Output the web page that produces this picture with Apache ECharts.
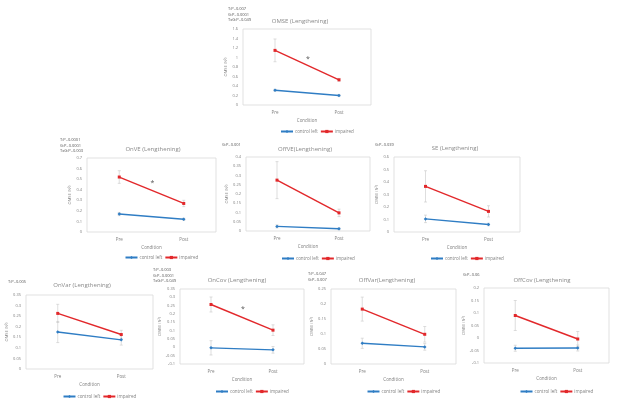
<!DOCTYPE html>
<html>
<head>
<meta charset="utf-8">
<script src="https://cdn.jsdelivr.net/npm/echarts@6/dist/echarts.min.js"></script>
<style>
html,body{margin:0;padding:0;background:#fff;}
#c{width:621px;height:407px;}
</style>
</head>
<body>
<div id="c"></div>
<script>
const categories = ['Pre', 'Post'];
const seriesNames = ['control left', 'impaired'];

const panelTitles = ['OMSE (Lengthening)', 'OnVE (Lengthening)', 'OffVE(Lengthening)', 'SE (Lengthening)',
  'OnVar (Lengthening)', 'OnCov (Lengthening)', 'OffVar(Lengthening)', 'OffCov (Lengthening'];
const panelStats = [
  ['T:P=0.007', 'G:P=0.0001', 'TxG:P=0.049'],
  ['T:P=0.0001', 'G:P=0.0001', 'TxG:P=0.003'],
  ['G:P=0.001'],
  ['G:P=0.039'],
  ['T:P=0.005'],
  ['T:P=0.003', 'G:P=0.0001', 'TxG:P=0.049'],
  ['T:P=0.047', 'G:P=0.007'],
  ['G:P=0.06']
];
// y value of the significance asterisk (null = none)
const starValue = [1.0, 0.47, null, null, null, 0.235, null, null];

// y-axis ranges [min, max, interval]
const yMin = [0, 0, 0, 0, 0, -0.1, 0, -0.1];
const yMax = [1.6, 0.7, 0.4, 0.6, 0.35, 0.35, 0.25, 0.2];
const yStep = [0.2, 0.1, 0.05, 0.1, 0.05, 0.05, 0.05, 0.05];

// values per panel
const omseControl = [0.31, 0.20], omseControlErr = [0.02, 0.02];
const omseImpaired = [1.15, 0.53], omseImpairedErr = [0.24, 0.03];
const onveControl = [0.17, 0.12], onveControlErr = [0.015, 0.01];
const onveImpaired = [0.52, 0.27], onveImpairedErr = [0.06, 0.03];
const offveControl = [0.025, 0.012], offveControlErr = [0.008, 0.005];
const offveImpaired = [0.275, 0.098], offveImpairedErr = [0.1, 0.02];
const seControl = [0.105, 0.06], seControlErr = [0.03, 0.01];
const seImpaired = [0.365, 0.165], seImpairedErr = [0.125, 0.045];
const onvarControl = [0.175, 0.138], onvarControlErr = [0.05, 0.025];
const onvarImpaired = [0.263, 0.163], onvarImpairedErr = [0.043, 0.02];
const oncovControl = [-0.003, -0.015], oncovControlErr = [0.043, 0.02];
const oncovImpaired = [0.257, 0.103], oncovImpairedErr = [0.045, 0.032];
const offvarControl = [0.069, 0.057], offvarControlErr = [0.017, 0.011];
const offvarImpaired = [0.183, 0.099], offvarImpairedErr = [0.04, 0.026];
const offcovControl = [-0.041, -0.04], offcovControlErr = [0.012, 0.012];
const offcovImpaired = [0.09, -0.004], offcovImpairedErr = [0.06, 0.03];

const controlData = [omseControl, onveControl, offveControl, seControl, onvarControl, oncovControl, offvarControl, offcovControl];
const controlErr = [omseControlErr, onveControlErr, offveControlErr, seControlErr, onvarControlErr, oncovControlErr, offvarControlErr, offcovControlErr];
const impairedData = [omseImpaired, onveImpaired, offveImpaired, seImpaired, onvarImpaired, oncovImpaired, offvarImpaired, offcovImpaired];
const impairedErr = [omseImpairedErr, onveImpairedErr, offveImpairedErr, seImpairedErr, onvarImpairedErr, oncovImpairedErr, offvarImpairedErr, offcovImpairedErr];

// layout: plot boxes [left, top, width, height]
const boxes = [
  [243, 29, 128, 76],
  [87, 158, 129, 74],
  [246, 157, 124, 74],
  [394, 157, 126, 75],
  [26, 295, 127, 74],
  [180, 289, 124, 75],
  [331, 289, 125, 75],
  [484, 288, 125, 75]
];
const titlePos = [[300, 21], [153, 149], [305, 149], [455, 148], [82, 285], [237, 280], [387, 280], [542, 280]];
const statPos = [[228, 9], [60, 140], [222, 145], [375, 145], [8, 282], [153, 270], [308, 274], [463, 275]];
const legendTop = [129, 255, 256, 256, 394, 389, 389, 389];

const BLUE = '#2f7dc4';
const RED = '#e2282b';
const GRAY = '#7f7f7f';
const FONT = 'Open Sans, Liberation Sans, sans-serif';

const grids = [], xAxes = [], yAxes = [], series = [], legends = [], graphics = [];

function errorSeries(idx, vals, errs) {
  return {
    type: 'custom',
    xAxisIndex: idx, yAxisIndex: idx,
    silent: true, z: 1,
    data: vals.map((v, i) => [i, v - errs[i], v + errs[i]]),
    renderItem: function (params, api) {
      const lo = api.coord([api.value(0), api.value(1)]);
      const hi = api.coord([api.value(0), api.value(2)]);
      const cap = 1.5;
      const st = { stroke: '#c8c8c8', lineWidth: 0.6 };
      return {
        type: 'group',
        children: [
          { type: 'line', shape: { x1: lo[0], y1: lo[1], x2: hi[0], y2: hi[1] }, style: st },
          { type: 'line', shape: { x1: lo[0] - cap, y1: lo[1], x2: lo[0] + cap, y2: lo[1] }, style: st },
          { type: 'line', shape: { x1: hi[0] - cap, y1: hi[1], x2: hi[0] + cap, y2: hi[1] }, style: st }
        ]
      };
    }
  };
}

for (let i = 0; i < 8; i++) {
  const b = boxes[i];
  grids.push({ left: b[0], top: b[1], width: b[2], height: b[3], show: true, borderColor: '#d9d9d9', borderWidth: 0.8, backgroundColor: 'transparent' });
  xAxes.push({
    type: 'category', gridIndex: i, data: categories, boundaryGap: true,
    axisLine: { show: false }, axisTick: { show: false },
    axisLabel: { fontSize: 4.5, color: GRAY, margin: 5, fontFamily: FONT },
    name: 'Condition', nameLocation: 'middle', nameGap: 13,
    nameTextStyle: { fontSize: 4.5, color: GRAY, fontFamily: FONT }
  });
  yAxes.push({
    type: 'value', gridIndex: i, min: yMin[i], max: yMax[i], interval: yStep[i],
    axisLine: { show: false }, axisTick: { show: false }, splitLine: { show: false },
    axisLabel: { fontSize: 4, color: GRAY, margin: 5, fontFamily: FONT, formatter: v => String(+v.toFixed(2)) },
    name: 'OMSE (N²)', nameLocation: 'middle', nameGap: 15,
    nameTextStyle: { fontSize: 4, color: GRAY, fontFamily: FONT }
  });
  series.push(errorSeries(i, controlData[i], controlErr[i]));
  series.push(errorSeries(i, impairedData[i], impairedErr[i]));
  series.push({
    name: seriesNames[0], type: 'line', xAxisIndex: i, yAxisIndex: i, data: controlData[i],
    symbol: 'diamond', symbolSize: 3.5, lineStyle: { color: BLUE, width: 1.4 }, itemStyle: { color: BLUE }, z: 3
  });
  series.push({
    name: seriesNames[1], type: 'line', xAxisIndex: i, yAxisIndex: i, data: impairedData[i],
    symbol: 'rect', symbolSize: 3, lineStyle: { color: RED, width: 1.4 }, itemStyle: { color: RED }, z: 3
  });
  const cx = b[0] + b[2] / 2;
  legends.push({
    data: seriesNames, left: cx - 27, top: legendTop[i], itemWidth: 12, itemHeight: 4, itemGap: 2,
    textStyle: { fontSize: 4.5, color: GRAY, fontFamily: FONT, padding: [0, 0, 0, -3] }, padding: 0
  });
  graphics.push({
    type: 'text', x: titlePos[i][0], y: titlePos[i][1],
    style: { text: panelTitles[i], fontSize: 6, fill: '#8a8a8a', textAlign: 'center', textVerticalAlign: 'middle', fontFamily: FONT }
  });
  panelStats[i].forEach((s, k) => {
    graphics.push({
      type: 'text', x: statPos[i][0], y: statPos[i][1] + k * 5.5,
      style: { text: s, fontSize: 4, fill: '#555', textAlign: 'left', textVerticalAlign: 'middle', fontFamily: FONT }
    });
  });
}

const chart = echarts.init(document.getElementById('c'), null, { renderer: 'canvas' });
chart.setOption({
  animation: false,
  backgroundColor: '#fff',
  grid: grids, xAxis: xAxes, yAxis: yAxes, series: series, legend: legends, graphic: graphics
});

// significance asterisks: midway between the two category positions
const starGraphics = [];
for (let i = 0; i < 8; i++) {
  if (starValue[i] === null) continue;
  const p0 = chart.convertToPixel({ xAxisIndex: i, yAxisIndex: i }, [categories[0], starValue[i]]);
  const p1 = chart.convertToPixel({ xAxisIndex: i, yAxisIndex: i }, [categories[1], starValue[i]]);
  starGraphics.push({
    type: 'text', x: (p0[0] + p1[0]) / 2 + 1, y: p0[1] + 1,
    style: { text: '*', fontSize: 7, fill: '#555', textAlign: 'center', textVerticalAlign: 'middle', fontFamily: FONT }
  });
}
chart.setOption({ graphic: graphics.concat(starGraphics) });
</script>
</body>
</html>
